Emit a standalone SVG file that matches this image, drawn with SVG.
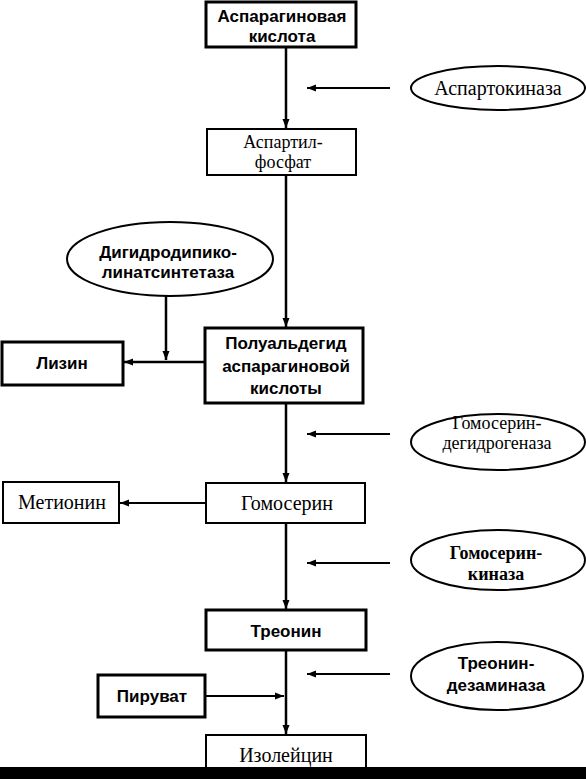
<svg xmlns="http://www.w3.org/2000/svg" width="586" height="779" viewBox="0 0 586 779">
<style>
.bg{fill:#fff}
.box{fill:#fff;stroke:#000;stroke-width:2}
.bbox{fill:#fff;stroke:#000;stroke-width:3}
.ell{fill:#fff;stroke:#000;stroke-width:2}
.ln{fill:none;stroke:#000;stroke-width:2}
.mln{fill:none;stroke:#000;stroke-width:2.5}
.r{font-family:"Liberation Serif","DejaVu Serif",serif;font-size:20px;fill:#000;text-anchor:middle}
.r2{font-family:"Liberation Serif","DejaVu Serif",serif;font-size:18px;fill:#000;text-anchor:middle}
.rb{font-family:"Liberation Serif","DejaVu Serif",serif;font-size:18px;font-weight:bold;fill:#000;text-anchor:middle}
.b{font-family:"Liberation Sans","DejaVu Sans",sans-serif;font-size:17px;font-weight:bold;fill:#000;text-anchor:middle}
</style>
<defs>
<marker id="ah" markerUnits="userSpaceOnUse" markerWidth="10" markerHeight="8" refX="9" refY="4" orient="auto">
<path d="M0,0.5 L9,4 L0,7.5 z" fill="#000"/>
</marker>
</defs>
<rect class="bg" x="0" y="0" width="586" height="779"/>
<g id="connectors">
<line class="mln" x1="286" y1="47" x2="286" y2="128" marker-end="url(#ah)"/>
<line class="mln" x1="286" y1="175" x2="286" y2="327" marker-end="url(#ah)"/>
<line class="mln" x1="286" y1="403" x2="286" y2="482" marker-end="url(#ah)"/>
<line class="mln" x1="286" y1="523" x2="286" y2="609" marker-end="url(#ah)"/>
<line class="mln" x1="286" y1="650" x2="286" y2="734" marker-end="url(#ah)"/>
<line class="ln" x1="390" y1="88" x2="307" y2="88" marker-end="url(#ah)"/>
<line class="ln" x1="390" y1="434" x2="307" y2="434" marker-end="url(#ah)"/>
<line class="ln" x1="390" y1="563" x2="307" y2="563" marker-end="url(#ah)"/>
<line class="ln" x1="390" y1="674" x2="307" y2="674" marker-end="url(#ah)"/>
<line class="mln" x1="166" y1="296" x2="166" y2="360" marker-end="url(#ah)"/>
<line class="mln" x1="205" y1="362" x2="124" y2="362" marker-end="url(#ah)"/>
<line class="ln" x1="206" y1="503" x2="120" y2="503" marker-end="url(#ah)"/>
<line class="ln" x1="205" y1="696" x2="284" y2="696" marker-end="url(#ah)"/>
</g>
<g id="aspartic-acid">
<rect class="bbox" x="206" y="2" width="150" height="45"/>
<text class="b" x="282" y="22">Аспарагиновая</text>
<text class="b" x="282" y="42">кислота</text>
</g>
<g id="aspartokinase">
<ellipse class="ell" cx="498" cy="88" rx="87" ry="22"/>
<text class="r" x="498" y="95">Аспартокиназа</text>
</g>
<g id="aspartyl-phosphate">
<rect class="box" x="207" y="129" width="149" height="46"/>
<text class="r2" x="283" y="148">Аспартил-</text>
<text class="r2" x="283" y="168">фосфат</text>
</g>
<g id="dhdps">
<ellipse class="ell" cx="170" cy="259" rx="103" ry="37"/>
<text class="b" x="168" y="258">Дигидродипико-</text>
<text class="b" x="168" y="278">линатсинтетаза</text>
</g>
<g id="lysine">
<rect class="bbox" x="2" y="342" width="121" height="43"/>
<text class="b" x="62" y="369">Лизин</text>
</g>
<g id="aspartate-semialdehyde">
<rect class="bbox" x="205" y="328" width="158" height="75"/>
<text class="b" x="286" y="349">Полуальдегид</text>
<text class="b" x="286" y="372">аспарагиновой</text>
<text class="b" x="286" y="394">кислоты</text>
</g>
<g id="homoserine-dehydrogenase">
<ellipse class="ell" cx="498" cy="442" rx="87" ry="28"/>
<text class="r2" x="497" y="429">Гомосерин-</text>
<text class="r2" x="497" y="449">дегидрогеназа</text>
</g>
<g id="methionine">
<rect class="box" x="3" y="482" width="116" height="41"/>
<text class="r" x="62" y="509">Метионин</text>
</g>
<g id="homoserine">
<rect class="box" x="206" y="483" width="159" height="40"/>
<text class="r" x="287" y="510">Гомосерин</text>
</g>
<g id="homoserine-kinase">
<ellipse class="ell" cx="498" cy="560" rx="87" ry="30"/>
<text class="rb" x="496" y="559">Гомосерин-</text>
<text class="rb" x="496" y="580">киназа</text>
</g>
<g id="threonine">
<rect class="bbox" x="206" y="610" width="160" height="40"/>
<text class="b" x="286" y="637">Треонин</text>
</g>
<g id="threonine-deaminase">
<ellipse class="ell" cx="497" cy="676" rx="86" ry="34"/>
<text class="b" x="496" y="669">Треонин-</text>
<text class="b" x="496" y="691">дезаминаза</text>
</g>
<g id="pyruvate">
<rect class="bbox" x="98" y="675" width="107" height="42"/>
<text class="b" x="152" y="702">Пируват</text>
</g>
<g id="isoleucine">
<rect class="box" x="206" y="735" width="160" height="40"/>
<text class="r" x="286" y="762">Изолейцин</text>
</g>
<rect x="0" y="767" width="586" height="12" fill="#000"/>
</svg>
